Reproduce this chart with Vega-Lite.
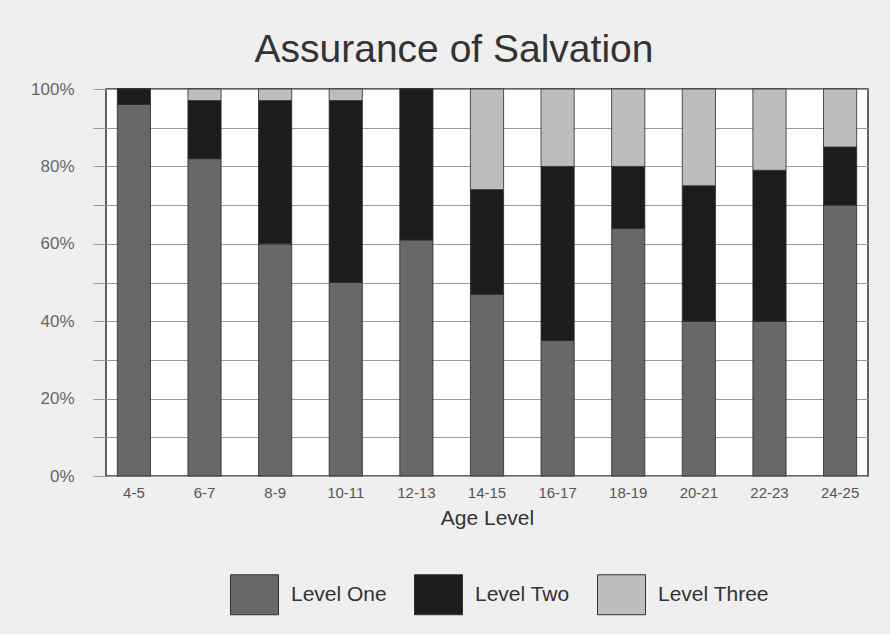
{
  "$schema": "https://vega.github.io/schema/vega-lite/v6.json",
  "width": 762,
  "height": 387,
  "autosize": {"type": "none"},
  "padding": {"left": 106, "top": 89, "right": 22, "bottom": 158},
  "background": "#efefef",
  "title": {
    "text": "Assurance of Salvation",
    "fontSize": 39,
    "fontWeight": "normal",
    "font": "Liberation Sans",
    "color": "#333333",
    "anchor": "middle",
    "dx": -33,
    "offset": 10
  },
  "data": {
    "values": [
      {"age": "4-5", "level": "Level One", "o": 1, "pct": 96},
      {"age": "4-5", "level": "Level Two", "o": 2, "pct": 4},
      {"age": "4-5", "level": "Level Three", "o": 3, "pct": 0},
      {"age": "6-7", "level": "Level One", "o": 1, "pct": 82},
      {"age": "6-7", "level": "Level Two", "o": 2, "pct": 15},
      {"age": "6-7", "level": "Level Three", "o": 3, "pct": 3},
      {"age": "8-9", "level": "Level One", "o": 1, "pct": 60},
      {"age": "8-9", "level": "Level Two", "o": 2, "pct": 37},
      {"age": "8-9", "level": "Level Three", "o": 3, "pct": 3},
      {"age": "10-11", "level": "Level One", "o": 1, "pct": 50},
      {"age": "10-11", "level": "Level Two", "o": 2, "pct": 47},
      {"age": "10-11", "level": "Level Three", "o": 3, "pct": 3},
      {"age": "12-13", "level": "Level One", "o": 1, "pct": 61},
      {"age": "12-13", "level": "Level Two", "o": 2, "pct": 39},
      {"age": "12-13", "level": "Level Three", "o": 3, "pct": 0},
      {"age": "14-15", "level": "Level One", "o": 1, "pct": 47},
      {"age": "14-15", "level": "Level Two", "o": 2, "pct": 27},
      {"age": "14-15", "level": "Level Three", "o": 3, "pct": 26},
      {"age": "16-17", "level": "Level One", "o": 1, "pct": 35},
      {"age": "16-17", "level": "Level Two", "o": 2, "pct": 45},
      {"age": "16-17", "level": "Level Three", "o": 3, "pct": 20},
      {"age": "18-19", "level": "Level One", "o": 1, "pct": 64},
      {"age": "18-19", "level": "Level Two", "o": 2, "pct": 16},
      {"age": "18-19", "level": "Level Three", "o": 3, "pct": 20},
      {"age": "20-21", "level": "Level One", "o": 1, "pct": 40},
      {"age": "20-21", "level": "Level Two", "o": 2, "pct": 35},
      {"age": "20-21", "level": "Level Three", "o": 3, "pct": 25},
      {"age": "22-23", "level": "Level One", "o": 1, "pct": 40},
      {"age": "22-23", "level": "Level Two", "o": 2, "pct": 39},
      {"age": "22-23", "level": "Level Three", "o": 3, "pct": 21},
      {"age": "24-25", "level": "Level One", "o": 1, "pct": 70},
      {"age": "24-25", "level": "Level Two", "o": 2, "pct": 15},
      {"age": "24-25", "level": "Level Three", "o": 3, "pct": 15}
    ]
  },
  "mark": {"type": "bar", "stroke": "#2a2a2a", "strokeWidth": 0.8},
  "encoding": {
    "x": {
      "field": "age",
      "type": "ordinal",
      "sort": null,
      "scale": {"paddingInner": 0.53, "paddingOuter": 0.16},
      "axis": {
        "title": "Age Level",
        "labelAngle": 0,
        "ticks": false,
        "domain": false,
        "labelPadding": 9,
        "labelFontSize": 15,
        "labelColor": "#555555",
        "labelFont": "Liberation Sans",
        "titleFont": "Liberation Sans",
        "titleFontSize": 21,
        "titleFontWeight": "normal",
        "titleColor": "#333333",
        "titlePadding": 7
      }
    },
    "y": {
      "field": "pct",
      "type": "quantitative",
      "stack": "zero",
      "scale": {"domain": [0, 100], "nice": false},
      "axis": {
        "title": null,
        "values": [0, 10, 20, 30, 40, 50, 60, 70, 80, 90, 100],
        "labelExpr": "datum.value % 20 == 0 ? datum.value + '%' : ''",
        "grid": true,
        "gridColor": "#999999",
        "gridWidth": 1,
        "tickSize": 13,
        "tickColor": "#999999",
        "domain": false,
        "labelPadding": 19,
        "labelFontSize": 17,
        "labelColor": "#666666",
        "labelFont": "Liberation Sans"
      }
    },
    "color": {
      "field": "level",
      "type": "nominal",
      "scale": {
        "domain": ["Level One", "Level Two", "Level Three"],
        "range": ["#686868", "#1c1c1c", "#bdbdbd"]
      },
      "legend": {
        "title": null,
        "orient": "none",
        "legendX": 124,
        "legendY": 481,
        "direction": "horizontal",
        "symbolType": "M-1,-0.833H1V0.833H-1Z",
        "symbolSize": 2304,
        "symbolStrokeColor": "#333333",
        "symbolStrokeWidth": 1,
        "labelFontSize": 21,
        "labelFont": "Liberation Sans",
        "labelColor": "#333333",
        "labelOffset": 12,
        "columnPadding": 25,
        "labelLimit": 300
      }
    },
    "order": {"field": "o", "type": "quantitative"}
  },
  "config": {
    "view": {"fill": "white", "stroke": "#333333", "strokeWidth": 1.5}
  }
}
